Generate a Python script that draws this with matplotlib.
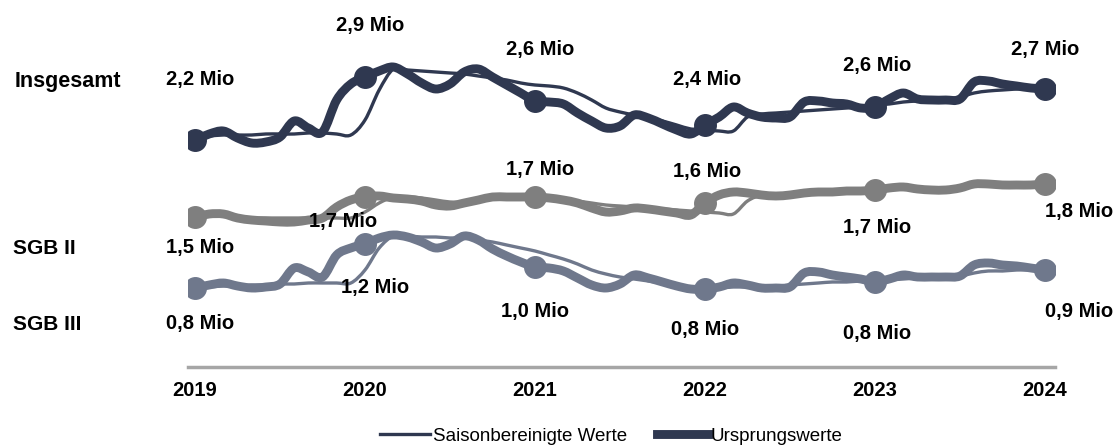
import matplotlib.pyplot as plt
from matplotlib.lines import Line2D
from matplotlib.path import Path
from matplotlib.patches import PathPatch
import numpy as np

#### DATA (thousands, monthly Jan 2019 - Jan 2024) ##########

years = [2019, 2020, 2021, 2022, 2023, 2024]

total_orig = [2280, 2340, 2370, 2300, 2250, 2260, 2310, 2470, 2400, 2360, 2680, 2840, 2910,
              2970, 3010, 2940, 2850, 2790, 2840, 2960, 2990, 2910, 2830, 2750, 2670,
              2660, 2640, 2550, 2470, 2400, 2420, 2530, 2500, 2440, 2380, 2340, 2430,
              2510, 2610, 2550, 2510, 2500, 2510, 2660, 2670, 2650, 2640, 2600, 2610,
              2690, 2750, 2690, 2680, 2680, 2690, 2860, 2870, 2840, 2820, 2800, 2790]
total_sa = [2310, 2320, 2330, 2330, 2330, 2340, 2340, 2340, 2350, 2350, 2340, 2330, 2480,
            2780, 2990, 2980, 2970, 2960, 2950, 2940, 2920, 2900, 2880, 2850, 2830,
            2820, 2800, 2750, 2680, 2600, 2560, 2530, 2500, 2470, 2430, 2390, 2380,
            2370, 2370, 2510, 2540, 2550, 2560, 2570, 2580, 2590, 2600, 2610, 2630,
            2640, 2660, 2670, 2680, 2690, 2710, 2750, 2770, 2780, 2790, 2800, 2800]

sgb2_orig = [1510, 1540, 1540, 1500, 1480, 1470, 1460, 1460, 1480, 1500, 1610, 1680, 1710,
             1720, 1700, 1690, 1670, 1630, 1620, 1650, 1680, 1710, 1710, 1710, 1710,
             1700, 1680, 1650, 1600, 1560, 1570, 1600, 1590, 1570, 1550, 1530, 1650,
             1730, 1760, 1750, 1730, 1720, 1730, 1750, 1760, 1760, 1770, 1770, 1780,
             1800, 1810, 1790, 1780, 1780, 1800, 1840, 1840, 1830, 1830, 1830, 1840]
sgb2_sa = [1510, 1520, 1520, 1510, 1500, 1500, 1500, 1500, 1500, 1500, 1500, 1500, 1560,
           1650, 1710, 1710, 1700, 1680, 1660, 1660, 1670, 1690, 1700, 1710, 1710,
           1700, 1690, 1670, 1650, 1630, 1620, 1610, 1600, 1590, 1580, 1570, 1560,
           1550, 1540, 1670, 1730, 1730, 1740, 1750, 1750, 1760, 1760, 1770, 1780,
           1790, 1800, 1800, 1800, 1800, 1810, 1820, 1830, 1830, 1840, 1840, 1840]

sgb3_orig = [800, 830, 850, 820, 800, 810, 840, 1000, 960, 910, 1130, 1200, 1240,
             1300, 1330, 1310, 1260, 1200, 1240, 1320, 1280, 1190, 1120, 1060, 1010,
             1000, 970, 900, 830, 800, 840, 930, 900, 860, 820, 790, 790,
             810, 850, 830, 800, 800, 810, 950, 960, 930, 910, 890, 860,
             890, 930, 910, 910, 910, 920, 1030, 1050, 1030, 1020, 1000, 980]
sgb3_sa = [800, 810, 820, 820, 830, 830, 840, 840, 850, 850, 850, 850, 980,
           1200, 1320, 1320, 1310, 1310, 1300, 1300, 1280, 1260, 1230, 1200, 1170,
           1130, 1090, 1040, 980, 940, 910, 890, 870, 850, 830, 810, 800,
           800, 810, 810, 820, 820, 830, 840, 850, 860, 860, 870, 870,
           880, 890, 900, 910, 910, 920, 950, 970, 970, 980, 980, 980]

total_labels = ['2,2 Mio', '2,9 Mio', '2,6 Mio', '2,4 Mio', '2,6 Mio', '2,7 Mio']
sgb2_labels = ['1,5 Mio', '1,7 Mio', '1,7 Mio', '1,6 Mio', '1,7 Mio', '1,8 Mio']
sgb3_labels = ['0,8 Mio', '1,2 Mio', '1,0 Mio', '0,8 Mio', '0,8 Mio', '0,9 Mio']

##### STYLE ######
plt.rcParams['font.family'] = ['Liberation Sans', 'DejaVu Sans']

c_total = '#2f3850'
c_sgb2 = '#7f7f7f'
c_sgb3 = '#6f788c'
lw_thin = 2.4
lw_thick = 6.4

# label offsets (years, thousands) relative to each January marker
total_off = [(0.03, 610), (0.03, 510), (0.03, 510), (0.01, 450), (0.01, 420), (0.0, 390)]
sgb2_off = [(0.03, -300), (-0.13, -250), (0.03, 280), (0.01, 310), (0.01, -370), (0.2, -270)]
sgb3_off = [(0.03, -350), (0.06, -430), (0.0, -440), (0.0, -410), (0.01, -510), (0.2, -410)]


##### FUNCTIONS ######
def smooth_path(x, y):
    # bezier through the points (like a smoothed office chart line)
    x = np.asarray(x, float)
    y = np.asarray(y, float)
    verts = [(x[0], y[0])]
    codes = [Path.MOVETO]
    n = len(x)
    for i in range(n - 1):
        x0, y0 = (x[i - 1], y[i - 1]) if i > 0 else (x[i], y[i])
        x3, y3 = (x[i + 2], y[i + 2]) if i < n - 2 else (x[i + 1], y[i + 1])
        c1 = (x[i] + (x[i + 1] - x0) / 6, y[i] + (y[i + 1] - y0) / 6)
        c2 = (x[i + 1] - (x3 - x[i]) / 6, y[i + 1] - (y3 - y[i]) / 6)
        verts += [c1, c2, (x[i + 1], y[i + 1])]
        codes += [Path.CURVE4] * 3
    return Path(verts, codes)


def draw_line(ax, x, y, col, lw, z):
    ax.add_patch(PathPatch(smooth_path(x, y), fill=False, edgecolor=col, lw=lw,
                           joinstyle='round', capstyle='round', zorder=z))


##### PLOT ######
t = 2019 + np.arange(len(total_orig)) / 12.0

fig = plt.figure(figsize=(11.17, 4.47), dpi=100)
ax = fig.add_axes([188 / 1117, 80 / 447, 867 / 1117, 347 / 447])

for orig, sa, col, labels, offs in [(total_orig, total_sa, c_total, total_labels, total_off),
                                     (sgb2_orig, sgb2_sa, c_sgb2, sgb2_labels, sgb2_off),
                                     (sgb3_orig, sgb3_sa, c_sgb3, sgb3_labels, sgb3_off)]:
    draw_line(ax, t, sa, col, lw_thin, 2)
    draw_line(ax, t, orig, col, lw_thick, 3)
    jan = [orig[i * 12] for i in range(len(years))]
    ax.plot(years, jan, 'o', color=col, ms=15.5, zorder=4)
    for yr, v, lab, (dx, dy) in zip(years, jan, labels, offs):
        ax.text(yr + dx, v + dy, lab, ha='center', va='center', fontsize=14.5,
                fontweight='bold', color='black', zorder=5)

ax.set_xlim(2019 - 7 / 170, 2024 + 10 / 170)
ax.set_ylim(10, 3480)

for s in ['top', 'right', 'left']:
    ax.spines[s].set_visible(False)
ax.spines['bottom'].set_color('#a6a6a6')
ax.spines['bottom'].set_linewidth(2.5)
ax.set_yticks([])
ax.set_xticks(years)
ax.set_xticklabels([str(y) for y in years], fontsize=14.5, fontweight='bold')
ax.tick_params(axis='x', length=0, pad=10)

# row labels on the left
fig.text(15 / 1117, 1 - 81 / 447, 'Insgesamt', fontsize=15.5, fontweight='bold', va='center')
fig.text(13 / 1117, 1 - 248 / 447, 'SGB II', fontsize=15, fontweight='bold', va='center')
fig.text(13 / 1117, 1 - 325 / 447, 'SGB III', fontsize=15, fontweight='bold', va='center')

handles = [Line2D([], [], color=c_total, lw=lw_thin), Line2D([], [], color=c_total, lw=lw_thick)]
fig.legend(handles, ['Saisonbereinigte Werte', 'Ursprungswerte'], loc='center',
           bbox_to_anchor=(611 / 1117, 1 - 436 / 447), ncol=2, frameon=False,
           fontsize=13.5, handlelength=2.7, handletextpad=0.15, columnspacing=1.6)

plt.savefig('out.png', dpi=100)
